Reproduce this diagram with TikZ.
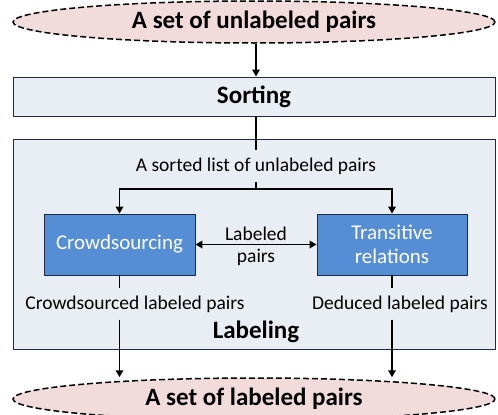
\documentclass[tikz,border=0pt]{standalone}
\usepackage{fontspec}
\setmainfont{Carlito}
\usetikzlibrary{positioning, arrows.meta, shapes.geometric, calc}
\definecolor{pairpink}{HTML}{F2DCDB}
\definecolor{stagegray}{HTML}{E9EDF4}
\definecolor{stepblue}{HTML}{558ED5}
\definecolor{stepedge}{HTML}{1F2A44}
\newcommand{\HeadFont}{\fontsize{25}{30}\selectfont\bfseries}
\newcommand{\FlowFont}{\fontsize{19.5}{23}\selectfont}
\tikzset{
    pairset/.style={ellipse, draw, line width=1.5pt, dash pattern=on 6pt off 3pt,
      fill=pairpink, minimum width=482pt, minimum height=42pt, inner sep=0pt, font=\HeadFont},
    stage/.style={rectangle, draw=stepedge, line width=0.9pt, fill=stagegray,
      minimum width=482pt},
    labstep/.style={rectangle, draw=stepedge, line width=0.9pt, fill=stepblue, text=white,
      minimum width=151pt, minimum height=61pt, align=center, inner sep=0pt,
      font=\fontsize{21}{24}\selectfont},
    flowtext/.style={font=\FlowFont, inner xsep=2pt, inner ysep=7pt},
    flow/.style={line width=1.8pt},
}

\begin{document}
\begin{tikzpicture}[x=1pt, y=-1pt, >={Triangle[length=7pt,width=7.5pt]}]
    \useasboundingbox (0,0) rectangle (498,415);

    \node[stage, minimum height=210pt] (labeling) at (254,244.5) {};
    \node[pairset] (unlab) at (254,22) {A set of unlabeled pairs};
    \node[stage, minimum height=39pt, font=\HeadFont] (sorting) at (254,96.5) {Sorting};
    \node[flowtext] (sorted) at (256,166) {A sorted list of unlabeled pairs};
    \coordinate (split) at (256,189);

    \node[labstep] (crowd) at (119.5,244.5) {Crowdsourcing};
    \node[labstep, minimum width=150pt] (trans) at (392,244.5) {Transitive\\relations};

    \node[flowtext] (crowdlab) at (135,304) {Crowdsourced labeled pairs};
    \node[flowtext] (deduced) at (400,304) {Deduced labeled pairs};
    \node[font=\HeadFont] (labtitle) at (256,332) {Labeling};
    \node[pairset] (outset) at (254,399) {A set of labeled pairs};

    \draw[flow, ->] (unlab.south -| split) -- (sorting.north -| split);
    \draw[flow] (sorting.south -| split) -- (sorted.north -| split);
    \draw[flow] (sorted.south -| split) -- (split);
    \draw[flow, ->] (split) -| (crowd);
    \draw[flow, ->] (split) -| (trans);

    \draw[flow, <->] (crowd) -- node[above, font=\FlowFont]{Labeled}
      node[below, font=\FlowFont]{pairs} (trans);

    \draw[flow] (crowd) -- (crowd |- crowdlab.north);
    \draw[flow, ->] (crowd |- crowdlab.south) -- (crowd |- outset.north);
    \draw[flow] (trans) -- (trans |- deduced.north);
    \draw[flow, ->] (trans |- deduced.south) -- (trans |- outset.north);
\end{tikzpicture}
\end{document}
